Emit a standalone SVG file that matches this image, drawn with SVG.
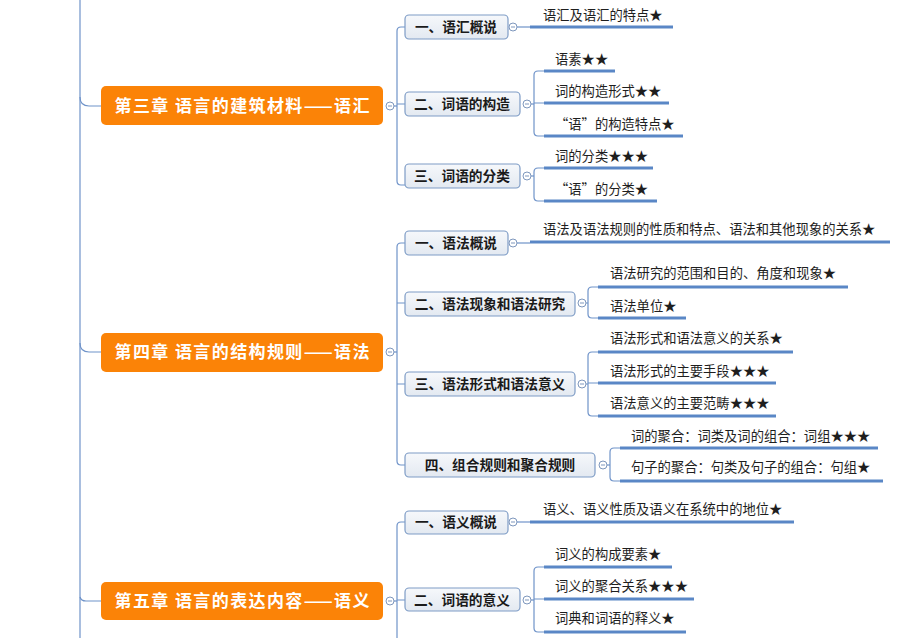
<svg xmlns="http://www.w3.org/2000/svg" width="900" height="638" viewBox="0 0 900 638">
<defs>
<linearGradient id="sg" x1="0" y1="0" x2="0" y2="1"><stop offset="0" stop-color="#F6F8FB"/><stop offset="1" stop-color="#E3E9F1"/></linearGradient>
</defs>
<style>
.ch{fill:#FB8307}
.cht{font-family:"Noto Sans CJK SC","Noto Sans",sans-serif;font-size:17px;font-weight:bold;fill:#fff;text-anchor:middle}
.sub{fill:url(#sg);stroke:#7E9CC6;stroke-width:1.2}
.subt{font-family:"Noto Sans CJK SC","Noto Sans",sans-serif;font-size:13.7px;font-weight:bold;fill:#1a1a1a;text-anchor:middle}
.leaf{stroke:#5A87C6;stroke-width:3;fill:none}
.lt{font-family:"Noto Sans CJK SC","Noto Sans",sans-serif;font-size:13.3px;fill:#1e1e1e}
.cn{stroke:#6F93C9;stroke-width:1.2;fill:none}
.col{fill:#fff;stroke:#7E97BD;stroke-width:1}
.mn{stroke:#7E97BD;stroke-width:1}
</style>
<rect width="900" height="638" fill="#fff"/>
<g id="connectors">
<line class="cn" x1="80" y1="0" x2="80" y2="638"/>
<path class="cn" d="M80,97 Q80,106 89,106 L101,106"/>
<path class="cn" d="M80,343 Q80,352 89,352 L101,352"/>
<path class="cn" d="M80,597 Q81,601 86,601 L101,601"/>
<path class="cn" d="M394,106 L397,106"/>
<path class="cn" d="M405,27 L401,27 Q397,27 397,31 L397,181 Q397,185 401,185 L405,185 M397,104 L405,104"/>
<path class="cn" d="M517,27 L530,27"/>
<path class="cn" d="M531,104 L534,104"/>
<path class="cn" d="M544,71 L538,71 Q534,71 534,75 L534,132 Q534,136 538,136 L544,136 M534,103 L544,103"/>
<path class="cn" d="M531,176 L534,176"/>
<path class="cn" d="M544,168 L538,168 Q534,168 534,172 L534,197 Q534,201 538,201 L544,201"/>
<path class="cn" d="M394,352 L397,352"/>
<path class="cn" d="M405,243 L401,243 Q397,243 397,247 L397,461 Q397,465 401,465 L405,465 M397,303 L405,303 M397,384 L405,384"/>
<path class="cn" d="M517,243 L530,243"/>
<path class="cn" d="M586,303 L588,303"/>
<path class="cn" d="M598,287 L592,287 Q588,287 588,291 L588,314 Q588,318 592,318 L598,318"/>
<path class="cn" d="M586,384 L588,384"/>
<path class="cn" d="M598,352 L592,352 Q588,352 588,356 L588,412 Q588,416 592,416 L598,416 M588,383 L598,383"/>
<path class="cn" d="M607,465 L610,465"/>
<path class="cn" d="M620,448 L614,448 Q610,448 610,452 L610,477 Q610,481 614,481 L620,481"/>
<path class="cn" d="M394,601 L397,601"/>
<path class="cn" d="M405,522 L401,522 Q397,522 397,526 L397,638 M397,600 L405,600"/>
<path class="cn" d="M517,522 L530,522"/>
<path class="cn" d="M531,600 L534,600"/>
<path class="cn" d="M544,567 L538,567 Q534,567 534,571 L534,628 Q534,632 538,632 L544,632 M534,599 L544,599"/>
</g>
<g id="ch3">
<rect class="ch" x="101" y="86" width="282" height="39" rx="5"/>
<text class="cht" x="242" y="112" textLength="255" lengthAdjust="spacing">第三章 语言的建筑材料——语汇</text>
<circle class="col" cx="390" cy="106" r="4"/><line class="mn" x1="388" y1="106" x2="392" y2="106"/>
</g>
<g id="ch4">
<rect class="ch" x="101" y="333" width="282" height="39" rx="5"/>
<text class="cht" x="242" y="358" textLength="255" lengthAdjust="spacing">第四章 语言的结构规则——语法</text>
<circle class="col" cx="390" cy="352" r="4"/><line class="mn" x1="388" y1="352" x2="392" y2="352"/>
</g>
<g id="ch5">
<rect class="ch" x="101" y="582" width="282" height="38" rx="5"/>
<text class="cht" x="242" y="607" textLength="255" lengthAdjust="spacing">第五章 语言的表达内容——语义</text>
<circle class="col" cx="390" cy="601" r="4"/><line class="mn" x1="388" y1="601" x2="392" y2="601"/>
</g>
<g id="s3-1">
<rect class="sub" x="405" y="15" width="103" height="24" rx="4"/>
<text class="subt" x="456" y="32">一、语汇概说</text>
<circle class="col" cx="513" cy="27" r="4"/><line class="mn" x1="511" y1="27" x2="515" y2="27"/>
</g>
<g id="s3-2">
<rect class="sub" x="405" y="92" width="115" height="24" rx="4"/>
<text class="subt" x="462" y="109">二、词语的构造</text>
<circle class="col" cx="527" cy="104" r="4"/><line class="mn" x1="525" y1="104" x2="529" y2="104"/>
</g>
<g id="s3-3">
<rect class="sub" x="405" y="164" width="115" height="24" rx="4"/>
<text class="subt" x="462" y="181">三、词语的分类</text>
<circle class="col" cx="527" cy="176" r="4"/><line class="mn" x1="525" y1="176" x2="529" y2="176"/>
</g>
<g id="s4-1">
<rect class="sub" x="405" y="231" width="103" height="24" rx="4"/>
<text class="subt" x="456" y="248">一、语法概说</text>
<circle class="col" cx="513" cy="243" r="4"/><line class="mn" x1="511" y1="243" x2="515" y2="243"/>
</g>
<g id="s4-2">
<rect class="sub" x="405" y="292" width="170" height="24" rx="4"/>
<text class="subt" x="490" y="309">二、语法现象和语法研究</text>
<circle class="col" cx="582" cy="303" r="4"/><line class="mn" x1="580" y1="303" x2="584" y2="303"/>
</g>
<g id="s4-3">
<rect class="sub" x="405" y="372" width="170" height="24" rx="4"/>
<text class="subt" x="490" y="389">三、语法形式和语法意义</text>
<circle class="col" cx="582" cy="384" r="4"/><line class="mn" x1="580" y1="384" x2="584" y2="384"/>
</g>
<g id="s4-4">
<rect class="sub" x="405" y="453" width="190" height="24" rx="4"/>
<text class="subt" x="500" y="470">四、组合规则和聚合规则</text>
<circle class="col" cx="603" cy="465" r="4"/><line class="mn" x1="601" y1="465" x2="605" y2="465"/>
</g>
<g id="s5-1">
<rect class="sub" x="405" y="511" width="103" height="23" rx="4"/>
<text class="subt" x="456" y="527">一、语义概说</text>
<circle class="col" cx="513" cy="522" r="4"/><line class="mn" x1="511" y1="522" x2="515" y2="522"/>
</g>
<g id="s5-2">
<rect class="sub" x="405" y="588" width="115" height="23" rx="4"/>
<text class="subt" x="462" y="605">二、词语的意义</text>
<circle class="col" cx="527" cy="600" r="4"/><line class="mn" x1="525" y1="600" x2="529" y2="600"/>
</g>
<g id="leaves">
<g id="l1"><line class="leaf" x1="530" y1="27" x2="673" y2="27"/><text class="lt" x="543" y="20">语汇及语汇的特点★</text></g>
<g id="l2"><line class="leaf" x1="544" y1="71" x2="615" y2="71"/><text class="lt" x="555" y="64">语素★★</text></g>
<g id="l3"><line class="leaf" x1="544" y1="103" x2="669" y2="103"/><text class="lt" x="555" y="96">词的构造形式★★</text></g>
<g id="l4"><line class="leaf" x1="544" y1="136" x2="683" y2="136"/><text class="lt" x="555" y="129">“语”的构造特点★</text></g>
<g id="l5"><line class="leaf" x1="544" y1="168" x2="653" y2="168"/><text class="lt" x="555" y="161">词的分类★★★</text></g>
<g id="l6"><line class="leaf" x1="544" y1="201" x2="657" y2="201"/><text class="lt" x="555" y="194">“语”的分类★</text></g>
<g id="l7"><line class="leaf" x1="530" y1="242" x2="890" y2="242"/><text class="lt" x="543" y="234">语法及语法规则的性质和特点、语法和其他现象的关系★</text></g>
<g id="l8"><line class="leaf" x1="598" y1="287" x2="848" y2="287"/><text class="lt" x="610" y="278">语法研究的范围和目的、角度和现象★</text></g>
<g id="l9"><line class="leaf" x1="598" y1="318" x2="686" y2="318"/><text class="lt" x="610" y="311">语法单位★</text></g>
<g id="l10"><line class="leaf" x1="598" y1="352" x2="793" y2="352"/><text class="lt" x="610" y="343">语法形式和语法意义的关系★</text></g>
<g id="l11"><line class="leaf" x1="598" y1="383" x2="776" y2="383"/><text class="lt" x="610" y="376">语法形式的主要手段★★★</text></g>
<g id="l12"><line class="leaf" x1="598" y1="416" x2="776" y2="416"/><text class="lt" x="610" y="408">语法意义的主要范畴★★★</text></g>
<g id="l13"><line class="leaf" x1="620" y1="448" x2="878" y2="448"/><text class="lt" x="631" y="441">词的聚合：词类及词的组合：词组★★★</text></g>
<g id="l14"><line class="leaf" x1="620" y1="481" x2="883" y2="481"/><text class="lt" x="631" y="472">句子的聚合：句类及句子的组合：句组★</text></g>
<g id="l15"><line class="leaf" x1="530" y1="522" x2="794" y2="522"/><text class="lt" x="543" y="514">语义、语义性质及语义在系统中的地位★</text></g>
<g id="l16"><line class="leaf" x1="544" y1="567" x2="672" y2="567"/><text class="lt" x="555" y="559">词义的构成要素★</text></g>
<g id="l17"><line class="leaf" x1="544" y1="599" x2="694" y2="599"/><text class="lt" x="555" y="591">词义的聚合关系★★★</text></g>
<g id="l18"><line class="leaf" x1="544" y1="632" x2="686" y2="632"/><text class="lt" x="555" y="623">词典和词语的释义★</text></g>
</g>
</svg>
